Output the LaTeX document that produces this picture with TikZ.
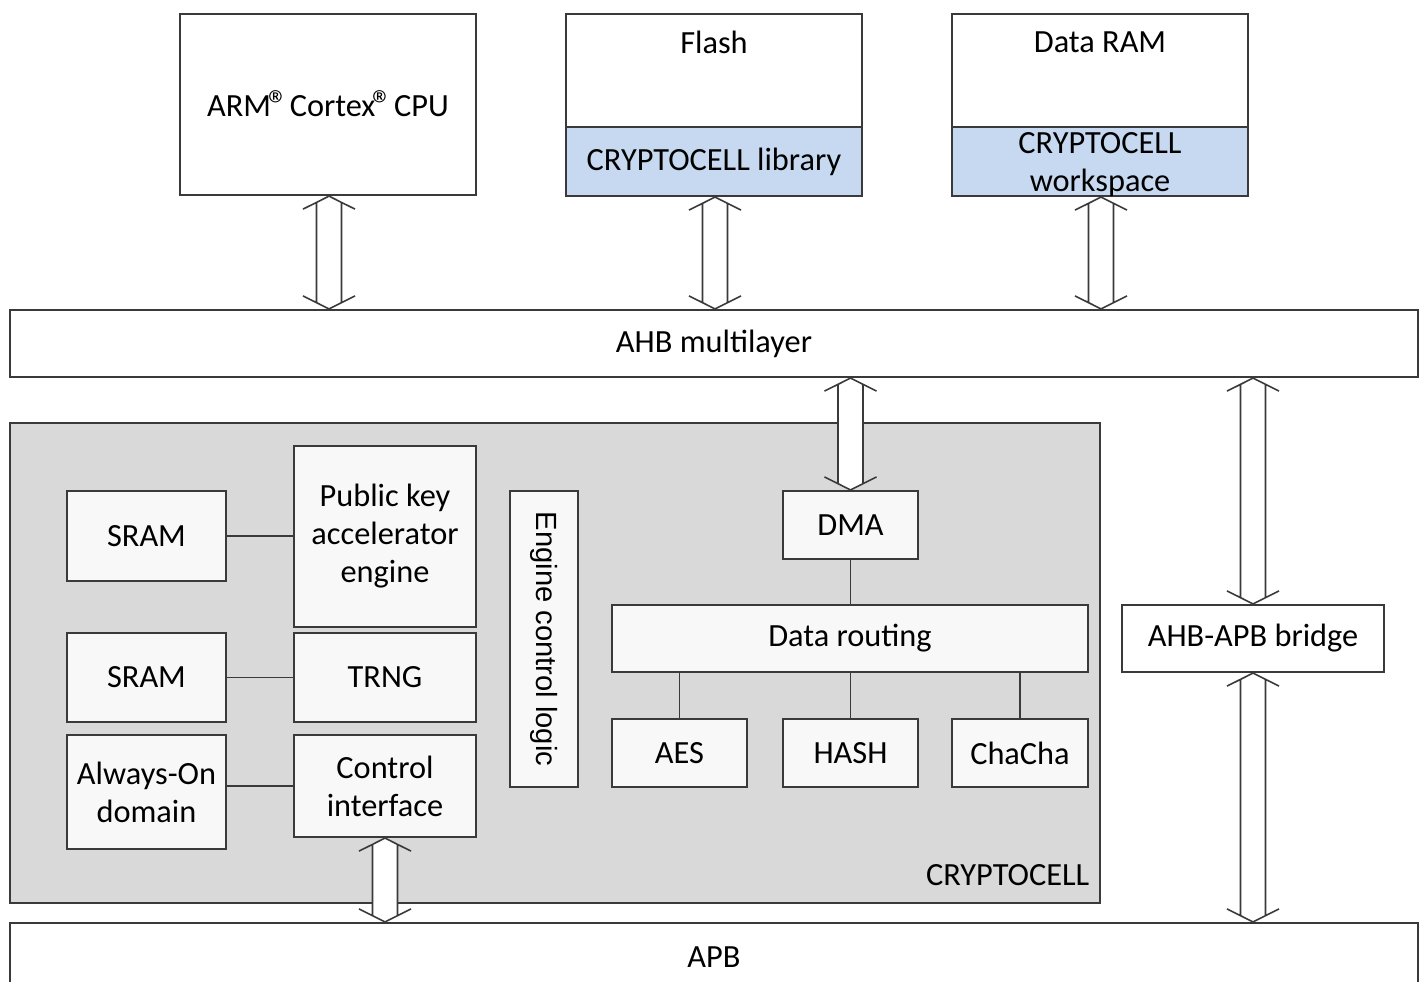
\documentclass[tikz,border=0pt]{standalone}
\usepackage{fontspec}
\setmainfont{Carlito}
\newfontfamily\arialfont{Liberation Sans}
\usetikzlibrary{calc}
\definecolor{bordercol}{HTML}{3A3A3A}
\definecolor{graybg}{HTML}{D9D9D9}
\definecolor{innerfill}{HTML}{F8F8F8}
\definecolor{libblue}{HTML}{C6D9F1}
\newcommand{\mytxt}{\fontsize{9.2}{10.8}\selectfont}
\newcommand{\regmark}{\kern-0.08em\raisebox{-0.05em}{\fontsize{11.5}{12}\selectfont ®}\kern-0.2em}
\tikzset{
  box/.style={draw=bordercol, line width=0.6pt, fill=white, inner sep=0pt, align=center, font=\mytxt},
  inbox/.style={box, fill=innerfill},
  bluebox/.style={box, fill=libblue},
  txt/.style={inner sep=0pt, align=center, font=\mytxt},
  link/.style={draw=bordercol, line width=0.55pt},
  bus/.style={draw=bordercol, line width=0.45pt, fill=white,
    to path={
      (\tikztostart) -- ($(\tikztostart)+(-12.5,6.3)$) -- ($(\tikztotarget)+(-12.5,-6.3)$)
      -- (\tikztotarget) -- ($(\tikztotarget)+(12.5,-6.3)$) -- ($(\tikztostart)+(12.5,6.3)$) -- cycle
      ($(\tikztostart)+(-12.5,6.3)$) -- ($(\tikztostart)+(-26,13)$)
      ($(\tikztostart)+(12.5,6.3)$) -- ($(\tikztostart)+(26,13)$)
      ($(\tikztotarget)+(-12.5,-6.3)$) -- ($(\tikztotarget)+(-26,-13)$)
      ($(\tikztotarget)+(12.5,-6.3)$) -- ($(\tikztotarget)+(26,-13)$)
    }}
}
\begin{document}
\begin{tikzpicture}[x=0.01cm, y=-0.01cm]
\useasboundingbox (0,0) rectangle (1421,982);
\clip (0,0) rectangle (1421,982);

% top row
\node[box, minimum width=2.96cm, minimum height=1.81cm] (cpu) at (328,104.5) {ARM\regmark{} Cortex\regmark{} CPU};

\node[box, minimum width=2.96cm, minimum height=1.13cm] (flash) at (714,70.5) {};
\node[txt] (flashlbl) at ($(flash.north)+(0,29)$) {Flash};
\node[bluebox, minimum width=2.96cm, minimum height=0.69cm] (flashlib) at (714,161.5) {CRYPTOCELL library};

\node[box, minimum width=2.96cm, minimum height=1.13cm] (ram) at (1100,70.5) {};
\node[txt] (ramlbl) at ($(ram.north)+(0,29)$) {Data RAM};
\node[bluebox, minimum width=2.96cm, minimum height=0.69cm] (ramws) at (1100,161.5) {};
\node[txt] (ramwstxt) at ($(ramws.center)+(0,3)$) {CRYPTOCELL\\workspace};

% AHB
\node[box, minimum width=14.08cm, minimum height=0.67cm] (ahb) at (714,343.5) {AHB multilayer};

% CRYPTOCELL block
\node[draw=bordercol, line width=0.6pt, fill=graybg, minimum width=10.90cm, minimum height=4.80cm, inner sep=0pt] (cc) at (555,663) {};
\node[txt, anchor=east] (cclbl) at (1090,875) {CRYPTOCELL};

\node[inbox, minimum width=1.59cm, minimum height=0.90cm] (sram1) at (146.5,536) {SRAM};
\node[inbox, minimum width=1.82cm, minimum height=1.81cm] (pka) at (385,536.5) {Public key\\accelerator\\engine};
\node[inbox, minimum width=1.59cm, minimum height=0.89cm] (sram2) at (146.5,677.5) {SRAM};
\node[inbox, minimum width=1.82cm, minimum height=0.89cm] (trng) at (385,677.5) {TRNG};
\node[inbox, minimum width=1.59cm, minimum height=1.14cm] (ao) at (146.5,792) {Always-On\\domain};
\node[inbox, minimum width=1.82cm, minimum height=1.02cm] (ctrl) at (385,786) {Control\\interface};
\node[inbox, minimum width=0.68cm, minimum height=2.96cm] (ecl) at (544,639) {};
\node[txt, rotate=-90, font=\arialfont\fontsize{8.3}{10}\selectfont] (ecltxt) at (ecl.center) {Engine control logic};

\node[inbox, minimum width=1.35cm, minimum height=0.68cm] (dma) at (850.5,525) {DMA};
\node[inbox, minimum width=4.76cm, minimum height=0.67cm] (route) at (850,638.5) {Data routing};
\node[inbox, minimum width=1.35cm, minimum height=0.68cm] (aes) at (679.5,753) {AES};
\node[inbox, minimum width=1.35cm, minimum height=0.68cm] (hash) at (850.5,753) {HASH};
\node[inbox, minimum width=1.36cm, minimum height=0.68cm] (chacha) at (1020,753) {ChaCha};

\node[box, minimum width=2.62cm, minimum height=0.67cm] (bridge) at (1253,638.5) {AHB-APB bridge};

% APB
\node[box, minimum width=14.08cm, minimum height=0.68cm] (apb) at (714,957) {APB};

% links
\draw[link] (sram1) -- (pka.west |- sram1.east);
\draw[link] (sram2) -- (trng);
\draw[link] (ao.east |- ctrl.west) -- (ctrl.west);
\draw[link] (dma.south) -- (dma.south |- route.north);
\draw[link] (aes.north |- route.south) -- (aes.north);
\draw[link] (hash.north |- route.south) -- (hash.north);
\draw[link] (chacha.north |- route.south) -- (chacha.north);

% buses
\draw[bus] ($(cpu.south)+(1,0)$) to ($(cpu.south |- ahb.north)+(1,0)$);
\draw[bus] ($(flashlib.south)+(1,0)$) to ($(flashlib.south |- ahb.north)+(1,0)$);
\draw[bus] ($(ramws.south)+(1,0)$) to ($(ramws.south |- ahb.north)+(1,0)$);
\draw[bus] (dma.north |- ahb.south) to (dma.north);
\draw[bus] (ctrl.south) to (ctrl.south |- apb.north);
\draw[bus] (bridge.north |- ahb.south) to (bridge.north);
\draw[bus] (bridge.south) to (bridge.south |- apb.north);
\end{tikzpicture}
\end{document}
